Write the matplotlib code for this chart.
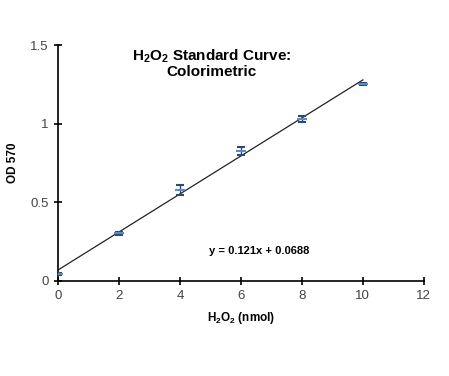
import matplotlib
matplotlib.use("Agg")
import matplotlib.pyplot as plt
import numpy as np

plt.rcParams['font.family'] = ['Liberation Sans', 'DejaVu Sans']
plt.rcParams['mathtext.fontset'] = 'custom'
plt.rcParams['mathtext.rm'] = 'Liberation Sans:bold'
plt.rcParams['mathtext.bf'] = 'Liberation Sans:bold'
plt.rcParams['mathtext.default'] = 'bf'

nmol = [0, 2, 4, 6, 8, 10]
od570 = [0.045, 0.302, 0.578, 0.828, 1.030, 1.255]
err = [0.008, 0.010, 0.030, 0.025, 0.017, 0.006]
slope, intercept = 0.121, 0.0688

fig = plt.figure(figsize=(4.49, 3.76), dpi=100)
ax = fig.add_axes([0.129, 0.253, 0.815, 0.627])

xfit = np.array([0, 10])
ax.plot(xfit, slope * xfit + intercept, color='#222222', lw=0.9, zorder=2)
ax.errorbar(nmol, od570, yerr=err, fmt='_', color='#5b8bc7', ms=7, mew=1.5,
            ecolor='#2b4a73', elinewidth=1, capsize=3, capthick=1, zorder=3)

ax.set_xlim(0, 12)
ax.set_ylim(0, 1.5)
ax.set_xticks(range(0, 13, 2))
ax.set_yticks([0, 0.5, 1, 1.5])
ax.set_yticklabels(['0', '0.5', '1', '1.5'])
for s in ['top', 'right']:
    ax.spines[s].set_visible(False)
for s in ['left', 'bottom']:
    ax.spines[s].set_linewidth(1.2)
ax.tick_params(direction='inout', length=6, width=1.2, labelsize=9.5, labelcolor='#444444')

ax.text(0.42, 0.99, 'H$_2$O$_2$ Standard Curve:\nColorimetric', transform=ax.transAxes,
        ha='center', va='top', fontsize=11, fontweight='bold', linespacing=1.0)
ax.text(0.55, 0.125, 'y = 0.121x + 0.0688', transform=ax.transAxes,
        ha='center', va='center', fontsize=8, fontweight='bold')
ax.set_xlabel('H$_2$O$_2$ (nmol)', fontsize=8.5, fontweight='bold', labelpad=6)
ax.set_ylabel('OD 570', fontsize=8.5, fontweight='bold', labelpad=8)

fig.savefig('out.png', dpi=100)
